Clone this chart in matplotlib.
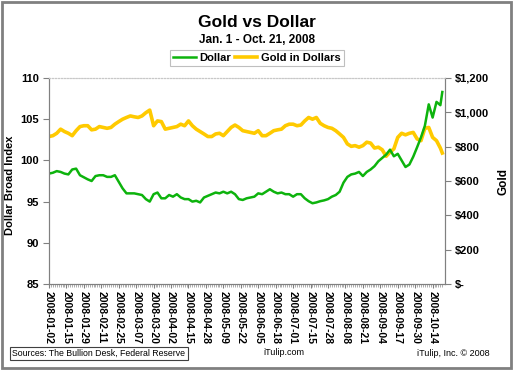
import matplotlib
matplotlib.use("Agg")
import matplotlib.pyplot as plt
from matplotlib.patches import Rectangle

plt.rcParams["font.family"] = ["Liberation Sans", "DejaVu Sans"]

# trading-day tick labels (every 9th trading day)
tick_labels = [
    "2008-01-02", "2008-01-15", "2008-01-29", "2008-02-11", "2008-02-25",
    "2008-03-07", "2008-03-20", "2008-04-02", "2008-04-15", "2008-04-28",
    "2008-05-09", "2008-05-22", "2008-06-05", "2008-06-18", "2008-07-01",
    "2008-07-15", "2008-07-28", "2008-08-08", "2008-08-21", "2008-09-04",
    "2008-09-17", "2008-09-30", "2008-10-14",
]
n_days = 204

# sampled trading-day index of each reading
day_idx = list(range(0, 203, 2)) + [203]

dollar = [
    98.4, 98.5, 98.7, 98.6, 98.4, 98.3, 98.9, 99.0, 98.2, 97.95,
    97.7, 97.5, 98.1, 98.2, 98.2, 98.0, 98.0, 98.2, 97.4, 96.6,
    96.0, 96.0, 96.0, 95.9, 95.8, 95.3, 95.0, 95.9, 96.1, 95.4,
    95.4, 95.8, 95.6, 95.9, 95.5, 95.3, 95.3, 95.0, 95.1, 94.9,
    95.5, 95.7, 95.9, 96.1, 96.0, 96.2, 96.0, 96.2, 95.9, 95.3,
    95.2, 95.4, 95.5, 95.6, 96.0, 95.9, 96.2, 96.5, 96.2, 96.0,
    96.1, 95.9, 95.9, 95.6, 95.9, 95.9, 95.4, 95.05, 94.8, 94.9,
    95.05, 95.15, 95.3, 95.6, 95.8, 96.2, 97.3, 98.0, 98.3, 98.4,
    98.6, 98.1, 98.6, 98.9, 99.3, 99.9, 100.3, 100.7, 101.3, 100.5,
    100.8, 100.0, 99.2, 99.5, 100.45, 101.6, 102.8, 104.2, 106.8, 105.2,
    107.1, 106.7, 108.3,
]

gold = [
    859, 864, 878, 902, 888, 878, 864, 893, 917, 922,
    922, 898, 902, 917, 912, 907, 912, 931, 946, 960,
    970, 979, 974, 970, 979, 998, 1013, 922, 950, 946,
    902, 907, 912, 917, 931, 922, 950, 922, 902, 888,
    874, 859, 859, 874, 878, 864, 888, 912, 926, 912,
    893, 888, 883, 878, 893, 864, 864, 878, 893, 898,
    902, 922, 931, 931, 922, 926, 950, 970, 960, 970,
    936, 922, 912, 907, 893, 874, 854, 816, 802, 806,
    797, 806, 826, 821, 792, 797, 782, 744, 768, 787,
    854, 878, 869, 878, 883, 845, 835, 907, 912, 854,
    835, 792, 763,
]

GREEN = "#0DB30D"
GOLD = "#FFCA00"
GREY = "#808080"

fig = plt.figure(figsize=(5.14, 3.70), dpi=100)
fig.patches.append(Rectangle((0.004, 0.006), 0.99, 0.988, transform=fig.transFigure,
                             fill=False, edgecolor=GREY, linewidth=2))

ax = fig.add_axes([0.0953, 0.2324, 0.7705, 0.5568])
ax2 = ax.twinx()
ax.set_zorder(ax2.get_zorder() + 1)
ax.patch.set_visible(False)

ax2.plot(day_idx, gold, color=GOLD, linewidth=2.6, label="Gold in Dollars")
ax.plot(day_idx, dollar, color=GREEN, linewidth=1.8, label="Dollar")

ax.set_xlim(0, 204.4)
ax.set_ylim(85, 110)
ax2.set_ylim(0, 1200)
ax.set_yticks([85, 90, 95, 100, 105, 110])
ax2.set_yticks([0, 200, 400, 600, 800, 1000, 1200])
ax2.set_yticklabels(["$-", "$200", "$400", "$600", "$800", "$1,000", "$1,200"])
ax.set_xticks(range(0, n_days, 9))
ax.set_xticklabels(tick_labels, rotation=-90)
ax.set_xticks(range(n_days), minor=True)

for a in (ax, ax2):
    for side in ("left", "right", "bottom"):
        a.spines[side].set_color(GREY)
    a.spines["top"].set_color("#C8C8C8")
    a.spines["top"].set_linestyle(":")
ax.tick_params(axis="x", which="major", length=3, color=GREY, labelsize=7.5, pad=2)
ax.tick_params(axis="x", which="minor", length=2, color="#A0A0A0", width=0.6)
ax.tick_params(axis="y", length=4, color=GREY, labelsize=8, pad=3)
ax2.tick_params(axis="y", length=4, color=GREY, labelsize=8, pad=3)
for lbl in ax.get_xticklabels() + ax.get_yticklabels() + ax2.get_yticklabels():
    lbl.set_fontweight("bold")

ax.set_ylabel("Dollar Broad Index", fontsize=8, fontweight="bold")
ax.yaxis.set_label_coords(-0.085, 0.48)
ax2.set_ylabel("Gold", fontsize=8.5, fontweight="bold", rotation=90)
ax2.yaxis.set_label_coords(1.133, 0.5)

fig.text(0.5, 0.94, "Gold vs Dollar", ha="center", va="center",
         fontsize=12.5, fontweight="bold")
fig.text(0.5, 0.892, "Jan. 1 - Oct. 21, 2008", ha="center", va="center",
         fontsize=8.5, fontweight="bold")

h1, l1 = ax.get_legend_handles_labels()
h2, l2 = ax2.get_legend_handles_labels()
leg = fig.legend(h1 + h2, l1 + l2, loc="center", bbox_to_anchor=(0.5, 0.843),
                 ncol=2, frameon=True, fancybox=False,
                 handlelength=2.0, handletextpad=0.3, columnspacing=0.4,
                 borderpad=0.3, prop={"weight": "bold", "size": 8})
leg.get_frame().set_edgecolor("#B0B0B0")
leg.get_frame().set_linewidth(0.8)

fig.text(0.024, 0.045, "Sources: The Bullion Desk, Federal Reserve", ha="left",
         va="center", fontsize=6.3,
         bbox=dict(boxstyle="square,pad=0.25", facecolor="white",
                   edgecolor="#404040", linewidth=0.8))
fig.text(0.552, 0.047, "iTulip.com", ha="center", va="center", fontsize=6.5)
fig.text(0.952, 0.045, "iTulip, Inc. \u00a9 2008", ha="right", va="center",
         fontsize=6.5)

fig.savefig("out.png", dpi=100)
